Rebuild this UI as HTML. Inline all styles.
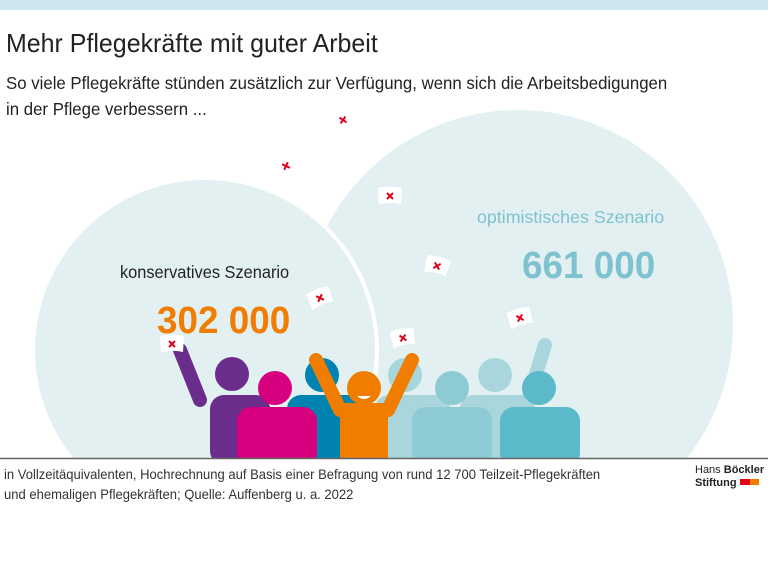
<!DOCTYPE html>
<html><head><style>
body{margin:0;width:768px;height:568px;background:#fff;font-family:"Liberation Sans",sans-serif;overflow:hidden;position:relative}
.t{position:absolute;color:#222;white-space:nowrap}
</style></head><body>
<div style="position:absolute;left:0;top:0;width:768px;height:10px;background:#cde6ee"></div>
<div class="t" style="left:6px;top:28px;font-size:26px;transform:scaleX(0.96);transform-origin:left">Mehr Pflegekräfte mit guter Arbeit</div>
<div class="t" style="left:6px;top:70px;font-size:17.5px;line-height:26px;transform:scaleX(0.96);transform-origin:left">So viele Pflegekräfte stünden zusätzlich zur Verfügung, wenn sich die Arbeitsbedigungen<br>in der Pflege verbessern ...</div>
<svg style="position:absolute;left:0;top:0" width="768" height="568">
<defs><clipPath id="c"><rect x="0" y="0" width="768" height="458"/></clipPath>
<g id="x"><path d="M-12-8 Q0-11 12-8 L11 8 Q0 5 -11 9Z" fill="#fff"/><path d="M-3-3L3 3M3-3L-3 3" stroke="#e2001a" stroke-width="2"/></g></defs>
<g clip-path="url(#c)">
<circle cx="518" cy="325" r="215" fill="#e3f0f2"/>
<circle cx="205" cy="350" r="172" fill="#e3f0f2" stroke="#fff" stroke-width="4"/>
<path d="M545 345 L528 400" stroke="#a9d5dc" stroke-width="14" stroke-linecap="round"/>
<circle cx="495" cy="375" r="17" fill="#a9d5dc"/><rect x="460" y="395" width="75" height="70" rx="14" fill="#a9d5dc"/>
<circle cx="405" cy="375" r="17" fill="#a9d5dc"/><rect x="375" y="395" width="75" height="70" rx="14" fill="#a9d5dc"/>
<circle cx="322" cy="375" r="17" fill="#0083b0"/><rect x="287" y="395" width="75" height="70" rx="14" fill="#0083b0"/>
<path d="M180 350 L200 400" stroke="#6b2d8c" stroke-width="14" stroke-linecap="round"/>
<circle cx="232" cy="374" r="17" fill="#6b2d8c"/><rect x="210" y="395" width="60" height="70" rx="14" fill="#6b2d8c"/>
<circle cx="275" cy="388" r="17" fill="#d6007f"/><rect x="237" y="407" width="80" height="60" rx="14" fill="#d6007f"/>
<circle cx="452" cy="388" r="17" fill="#8ecad4"/><rect x="412" y="407" width="80" height="60" rx="14" fill="#8ecad4"/>
<circle cx="539" cy="388" r="17" fill="#5bb9c9"/><rect x="500" y="407" width="80" height="60" rx="14" fill="#5bb9c9"/>
<path d="M316 360 L340 410 L388 410 L412 360" stroke="#f07d00" stroke-width="14" stroke-linecap="round" stroke-linejoin="round" fill="none"/>
<circle cx="364" cy="388" r="17" fill="#f07d00"/><rect x="340" y="404" width="48" height="60" rx="6" fill="#f07d00"/>
<path d="M357 396 Q364 402 371 396Z" fill="#fff"/>
</g>
<line x1="0" y1="458.5" x2="768" y2="458.5" stroke="#666" stroke-width="1.5"/>
<use href="#x" transform="translate(343,120) rotate(-10)"/>
<use href="#x" transform="translate(286,166) rotate(-20)"/>
<use href="#x" transform="translate(390,196)"/>
<use href="#x" transform="translate(437,266) rotate(15)"/>
<use href="#x" transform="translate(320,298) rotate(-20)"/>
<use href="#x" transform="translate(520,318) rotate(-15)"/>
<use href="#x" transform="translate(172,344)"/>
<use href="#x" transform="translate(403,338) rotate(-10)"/>
<text x="120" y="278" font-size="18" fill="#222" font-family="Liberation Sans" transform="translate(120 0) scale(0.91 1) translate(-120 0)">konservatives Szenario</text>
<text x="157" y="333" font-size="38" font-weight="bold" fill="#f07d00" font-family="Liberation Sans" transform="translate(157 0) scale(0.97 1) translate(-157 0)">302 000</text>
<text x="477" y="223" font-size="18" fill="#7fc2cf" font-family="Liberation Sans" transform="translate(477 0) scale(0.99 1) translate(-477 0)">optimistisches Szenario</text>
<text x="522" y="278" font-size="38" font-weight="bold" fill="#7fc2cf" font-family="Liberation Sans" transform="translate(522 0) scale(0.97 1) translate(-522 0)">661 000</text>
<rect x="740" y="479" width="10" height="6" fill="#e2001a"/><rect x="750" y="479" width="9" height="6" fill="#f07d00"/>
</svg>
<div class="t" style="left:4px;top:464px;font-size:14px;line-height:20px;color:#333;transform:scaleX(0.93);transform-origin:left">in Vollzeitäquivalenten, Hochrechnung auf Basis einer Befragung von rund 12 700 Teilzeit-Pflegekräften<br>und ehemaligen Pflegekräften; Quelle: Auffenberg u. a. 2022</div>
<div class="t" style="left:695px;top:464px;font-size:11px;line-height:13px;color:#222">Hans <b>Böckler</b><br><b>Stiftung</b></div>
</body></html>
